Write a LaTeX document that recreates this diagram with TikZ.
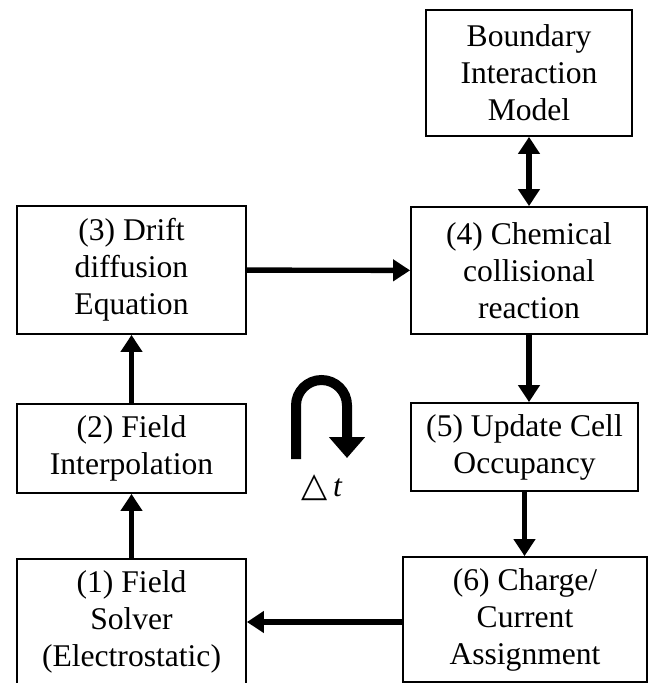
\documentclass[tikz,border=0pt]{standalone}
\usepackage{fontspec}
\setmainfont{Liberation Serif}
\newfontfamily\symfont{DejaVu Sans}
\usepackage{tikz}
\usetikzlibrary{arrows.meta, positioning, calc}

\tikzset{
    stepbox/.style={draw=black, line width=0.9pt, fill=white, align=center,
                    inner sep=2pt, font=\fontsize{15.8}{18.5}\selectfont},
    flow/.style={line width=2.7pt, -{Triangle[length=8.5pt,width=10.5pt]}},
    both/.style={line width=2.7pt, {Triangle[length=8.5pt,width=10.5pt]}-{Triangle[length=8.5pt,width=10.5pt]}}
}

\begin{document}
\begin{tikzpicture}[x=0.5pt, y=-0.5pt]
    \useasboundingbox (0,0) rectangle (649,683);

    % process boxes
    \node[stepbox, minimum width=103pt, minimum height=63pt] (bim) at (529,73)
        {Boundary\\Interaction\\Model};
    \node[stepbox, minimum width=114.5pt, minimum height=64pt] (drift) at (131.5,270)
        {(3) Drift\\diffusion\\Equation};
    \node[stepbox, minimum width=118pt, minimum height=63.5pt] (chem) at (529,270.5)
        {(4) Chemical\\collisional\\reaction};
    \node[stepbox, minimum width=114.5pt, minimum height=44.5pt] (interp) at (131.5,448.5)
        {(2) Field\\Interpolation};
    \node[stepbox, minimum width=113.5pt, minimum height=44pt] (update) at (524.5,447)
        {(5) Update Cell\\Occupancy};
    \node[stepbox, minimum width=122pt, minimum height=62.5pt] (charge) at (525,619.5)
        {(6) Charge/\\Current\\Assignment};
    \node[stepbox, minimum width=114.5pt, minimum height=63pt] (solver) at (131.5,622)
        {(1) Field\\Solver\\(Electrostatic)};

    % connectors
    \draw[both] (bim) -- (chem);
    \draw[flow] (drift) -- (chem);
    \draw[flow] (chem.south) -- (chem.south |- update.north);
    \draw[flow] (update.south) -- (update.south |- charge.north);
    \draw[flow] (charge.west |- solver.east) -- (solver.east);
    \draw[flow] (solver) -- (interp);
    \draw[flow] (interp) -- (drift);

    % time step loop
    \coordinate (loop) at (296,459);
    \draw[line width=5pt, -{Triangle[length=10.5pt,width=17.5pt]}]
        (loop) -- ++(0,-53.5) arc[start angle=180, end angle=360, radius=25.5] -- ++(0,52.5);
    \node[font=\fontsize{15.8}{18}\selectfont] (dt) at (322,488)
        {{\symfont\fontsize{17}{18}\selectfont △}\,\textit{t}};
\end{tikzpicture}
\end{document}
